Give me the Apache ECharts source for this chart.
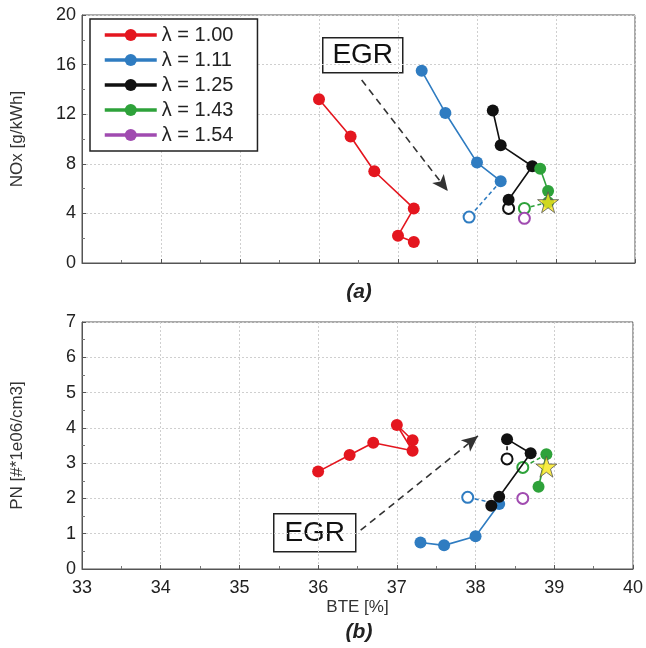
<!DOCTYPE html>
<html><head><meta charset="utf-8">
<script src="https://cdn.jsdelivr.net/npm/echarts@6/dist/echarts.min.js"></script>
<style>html,body{margin:0;padding:0;background:#fff}#c{width:646px;height:648px}</style>
</head><body><div id="c"></div>
<script>
const seriesNames = ['λ = 1.00', 'λ = 1.11', 'λ = 1.25', 'λ = 1.43', 'λ = 1.54'];
const colors = ['#e4161f', '#2f7cc1', '#111111', '#2ea23a', '#a04bb0'];
const xTicks = [33, 34, 35, 36, 37, 38, 39, 40];

// NOx panel (a): [BTE, NOx]
const noxRed = [[36.0, 13.2], [36.4, 10.2], [36.7, 7.4], [37.2, 4.4], [37.0, 2.2], [37.2, 1.7]];
const noxBlue = [[37.3, 15.5], [37.6, 12.1], [38.0, 8.1], [38.3, 6.6]];
const noxBlueEgr = [[38.3, 6.6], [37.9, 3.7]];
const noxBlack = [[38.2, 12.3], [38.3, 9.5], [38.7, 7.8], [38.4, 5.1]];
const noxBlackEgr = [[38.4, 5.1], [38.4, 4.4]];
const noxGreen = [[38.8, 7.6], [38.9, 5.8], [38.9, 4.9]];
const noxGreenEgr = [[38.9, 4.9], [38.6, 4.4]];
const noxPurple = [[38.6, 3.6]];
const noxStar = [[38.9, 4.9]];

// PN panel (b): [BTE, PN]
const pnRed = [[36.0, 2.76], [36.4, 3.23], [36.7, 3.58], [37.2, 3.35], [37.0, 4.08], [37.2, 3.65]];
const pnBlue = [[37.3, 0.75], [37.6, 0.67], [38.0, 0.93], [38.3, 1.84]];
const pnBlueEgr = [[38.3, 1.84], [37.9, 2.03]];
const pnBlack = [[38.2, 1.79], [38.3, 2.05], [38.7, 3.28], [38.4, 3.68]];
const pnBlackEgr = [[38.4, 3.68], [38.4, 3.12]];
const pnGreen = [[38.8, 2.33], [38.9, 3.25]];
const pnGreenEgr = [[38.9, 3.25], [38.6, 2.88]];
const pnPurple = [[38.6, 2.0]];
const pnStar = [[38.9, 2.9]];

// EGR arrows in data coordinates
const noxArrow = [[36.54, 14.76], [37.63, 5.8]];
const pnArrow = [[36.54, 1.10], [38.03, 3.77]];

const FONT = 'Liberation Sans, Arial, sans-serif';
const STAR = 'path://M50,2 L61.5,36 L97,36 L68.5,57.5 L79,92 L50,71 L21,92 L31.5,57.5 L3,36 L38.5,36 Z';

function solid(name, data, color, gi, extra) {
  return Object.assign({
    name: name, type: 'line', xAxisIndex: gi, yAxisIndex: gi, data: data,
    symbol: 'circle', symbolSize: 12, showSymbol: true,
    itemStyle: { color: color }, lineStyle: { color: color, width: 1.6 },
    z: 5, animation: false, silent: true
  }, extra || {});
}
function egr(data, color, gi) {
  return {
    name: 'egr', type: 'line', xAxisIndex: gi, yAxisIndex: gi,
    data: data.map((p, i) => i === 0 ? { value: p, symbol: 'none' } : { value: p, symbol: 'emptyCircle' }),
    symbolSize: 11,
    itemStyle: { color: color, borderWidth: 1.6, borderColor: color },
    lineStyle: { color: color, width: 1.6, type: [4, 3] },
    z: 4, animation: false, silent: true
  };
}
function openPoint(name, data, color, gi) {
  return {
    name: name, type: 'line', xAxisIndex: gi, yAxisIndex: gi, data: data,
    symbol: 'emptyCircle', symbolSize: 11,
    itemStyle: { color: color, borderColor: color, borderWidth: 1.6 },
    lineStyle: { color: color, width: 1.6 }, z: 4, animation: false, silent: true
  };
}
function star(data, gi) {
  return {
    name: 'star', type: 'scatter', xAxisIndex: gi, yAxisIndex: gi, data: data,
    symbol: STAR, symbolSize: 21,
    itemStyle: { color: '#f7e619', borderColor: '#555', borderWidth: 1 },
    z: 8, animation: false, silent: true
  };
}
function arrow(pts) {
  return {
    silent: true, symbol: ['none', 'arrow'], symbolSize: [11, 16],
    label: { show: false },
    lineStyle: { color: '#333', width: 1.6, type: [7, 5] },
    data: [[{ coord: pts[0] }, { coord: pts[1] }]], animation: false
  };
}

const axisCommon = {
  axisLine: { show: true, lineStyle: { color: '#555', width: 1 } },
  axisTick: { show: true, inside: true, length: 4, lineStyle: { color: '#555' } },
  minorTick: { show: true, splitNumber: 2, length: 3, lineStyle: { color: '#777' } },
  splitLine: { show: true, lineStyle: { color: '#cfcfcf', type: [2, 2], width: 1 } },
  axisLabel: { color: '#222', fontSize: 18, fontFamily: FONT, margin: 6 }
};
const nameStyle = { color: '#333', fontSize: 17, fontFamily: FONT };

const option = {
  backgroundColor: '#fff',
  animation: false,
  grid: [
    { left: 82, top: 15, width: 553, height: 248, show: true, borderColor: '#555', borderWidth: 1, backgroundColor: '#fff' },
    { left: 82, top: 322, width: 553, height: 247, show: true, borderColor: '#555', borderWidth: 1, backgroundColor: '#fff' }
  ],
  xAxis: [
    Object.assign({}, axisCommon, { type: 'value', gridIndex: 0, min: xTicks[0], max: xTicks[xTicks.length - 1], interval: 1,
      axisLabel: { show: false } }),
    Object.assign({}, axisCommon, { type: 'value', gridIndex: 1, min: xTicks[0], max: xTicks[xTicks.length - 1], interval: 1,
      axisLabel: { color: '#222', fontSize: 18, fontFamily: FONT, margin: 10 },
      name: 'BTE [%]', nameLocation: 'middle', nameGap: 30, nameTextStyle: nameStyle })
  ],
  yAxis: [
    Object.assign({}, axisCommon, { type: 'value', gridIndex: 0, min: 0, max: 20, interval: 4,
      name: 'NOx [g/kWh]', nameLocation: 'middle', nameGap: 56, nameTextStyle: nameStyle }),
    Object.assign({}, axisCommon, { type: 'value', gridIndex: 1, min: 0, max: 7, interval: 1,
      name: 'PN [#*1e06/cm3]', nameLocation: 'middle', nameGap: 56, nameTextStyle: nameStyle })
  ],
  legend: {
    data: seriesNames, orient: 'vertical', left: 90, top: 19,
    padding: [5, 24, 5, 13], itemGap: 3, itemWidth: 52, itemHeight: 15,
    borderColor: '#222', borderWidth: 1.5, backgroundColor: '#fff',
    lineStyle: { width: 3.5 },
    textStyle: { fontSize: 20, color: '#222', fontFamily: FONT, lineHeight: 22 },
    selectedMode: false, z: 20
  },
  graphic: [
    { type: 'group', left: 322, top: 37, z: 30, children: [
      { type: 'rect', shape: { x: 0, y: 0, width: 80, height: 35 }, style: { fill: '#fff', stroke: '#222', lineWidth: 1.5 } },
      { type: 'text', x: 40, y: 18, style: { text: 'EGR', fontSize: 28, fontFamily: FONT, fill: '#111', align: 'center', verticalAlign: 'middle' } }
    ]},
    { type: 'group', left: 273, top: 513, z: 30, children: [
      { type: 'rect', shape: { x: 0, y: 0, width: 82, height: 38 }, style: { fill: '#fff', stroke: '#222', lineWidth: 1.5 } },
      { type: 'text', x: 41, y: 20, style: { text: 'EGR', fontSize: 28, fontFamily: FONT, fill: '#111', align: 'center', verticalAlign: 'middle' } }
    ]},
    { type: 'text', x: 359, y: 292, z: 30, style: { text: '(a)', fontSize: 21, fontWeight: 'bold', fontStyle: 'italic', fontFamily: FONT, fill: '#222', align: 'center', verticalAlign: 'middle' } },
    { type: 'text', x: 359, y: 632, z: 30, style: { text: '(b)', fontSize: 21, fontWeight: 'bold', fontStyle: 'italic', fontFamily: FONT, fill: '#222', align: 'center', verticalAlign: 'middle' } }
  ],
  series: [
    solid(seriesNames[0], noxRed, colors[0], 0, { markLine: arrow(noxArrow) }),
    solid(seriesNames[1], noxBlue, colors[1], 0),
    solid(seriesNames[2], noxBlack, colors[2], 0),
    solid(seriesNames[3], noxGreen, colors[3], 0),
    solid(seriesNames[4], [], colors[4], 0),
    egr(noxBlueEgr, colors[1], 0),
    egr(noxBlackEgr, colors[2], 0),
    egr(noxGreenEgr, colors[3], 0),
    openPoint('noxPurpleOpen', noxPurple, colors[4], 0),
    star(noxStar, 0),

    solid('pnRed', pnRed, colors[0], 1, { markLine: arrow(pnArrow) }),
    solid('pnBlue', pnBlue, colors[1], 1),
    solid('pnBlack', pnBlack, colors[2], 1),
    solid('pnGreen', pnGreen, colors[3], 1),
    egr(pnBlueEgr, colors[1], 1),
    egr(pnBlackEgr, colors[2], 1),
    egr(pnGreenEgr, colors[3], 1),
    openPoint('pnPurpleOpen', pnPurple, colors[4], 1),
    star(pnStar, 1)
  ]
};

const chart = echarts.init(document.getElementById('c'), null, { renderer: 'canvas' });
chart.setOption(option);
</script>
</body></html>
